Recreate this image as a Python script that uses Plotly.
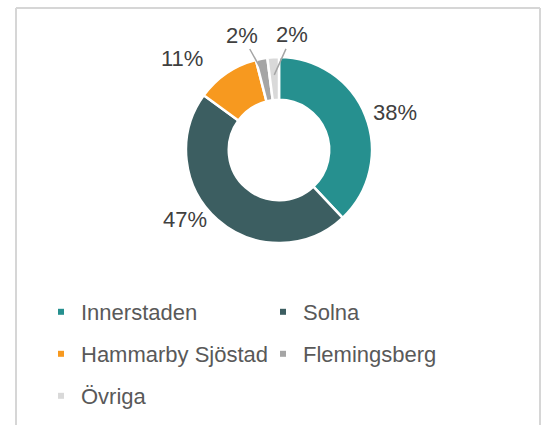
import math
import plotly.graph_objects as go

categories = ["Innerstaden", "Solna", "Hammarby Sjöstad", "Flemingsberg", "Övriga"]
values = [38, 47, 11, 2, 2]
colors = ["#26908F", "#3C5E61", "#F7991F", "#A5A5A5", "#D9D9D9"]
legend_rows = ["legend", "legend", "legend2", "legend2", "legend3"]
label_offsets = [(46, -10), (-44, 13), (-55, -29), (-23, -41), (18, -40)]
label_leader = [False, False, False, True, True]

FONT = "Liberation Sans, Arial, sans-serif"

W, H = 547, 425


def px(x):
    return x / W


def py(y):
    return 1 - y / H


CX, CY, R = 279, 150, 93

fig = go.Figure()

fig.add_trace(go.Pie(
    labels=categories,
    values=values,
    sort=False,
    direction="clockwise",
    rotation=0,
    hole=0.54,
    marker=dict(colors=colors, line=dict(color="white", width=2.5)),
    textinfo="none",
    showlegend=False,
    domain=dict(x=[px(CX - R), px(CX + R)], y=[py(CY + R), py(CY - R)]),
))

# percentage labels, anchored at each slice's mid-angle
total = sum(values)
annotations = []
cum = 0
for v, off, lead in zip(values, label_offsets, label_leader):
    mid = (cum + v / 2) / total
    cum += v
    ang = 2 * math.pi * mid
    r_tip = 0.81 * R
    tx = CX + r_tip * math.sin(ang)
    ty = CY - r_tip * math.cos(ang)
    annotations.append(dict(
        x=px(tx), y=py(ty), xref="paper", yref="paper",
        text=f"{v / total * 100:.0f}%",
        showarrow=True, arrowhead=0, arrowwidth=1.5,
        arrowcolor="#A5A5A5" if lead else "rgba(0,0,0,0)",
        ax=off[0], ay=off[1], standoff=0, startstandoff=0,
        font=dict(family=FONT, size=22, color="#404040"),
    ))

for name, col, lg in zip(categories, colors, legend_rows):
    fig.add_trace(go.Scatter(
        x=[None], y=[None], mode="markers", name=name,
        marker=dict(symbol="square", size=6, color=col),
        legend=lg, showlegend=True, hoverinfo="skip",
    ))

leg_common = dict(orientation="h", xanchor="left", yanchor="middle",
                  x=px(41), entrywidth=177, entrywidthmode="pixels",
                  font=dict(family=FONT, size=22, color="#595959"),
                  bgcolor="rgba(0,0,0,0)", borderwidth=0, itemclick=False)

FRAME_L, FRAME_R, FRAME_T = 16, 540, 8
frame_line = dict(color="#D6D6D6", width=2)
shapes = [
    dict(type="line", xref="paper", yref="paper",
         x0=px(FRAME_L), x1=px(FRAME_L), y0=0, y1=py(FRAME_T), line=frame_line),
    dict(type="line", xref="paper", yref="paper",
         x0=px(FRAME_R), x1=px(FRAME_R), y0=0, y1=py(FRAME_T), line=frame_line),
    dict(type="line", xref="paper", yref="paper",
         x0=px(FRAME_L), x1=px(FRAME_R), y0=py(FRAME_T), y1=py(FRAME_T), line=frame_line),
]

fig.update_layout(
    width=W, height=H,
    margin=dict(l=0, r=0, t=0, b=0),
    paper_bgcolor="white", plot_bgcolor="rgba(0,0,0,0)",
    xaxis=dict(visible=False), yaxis=dict(visible=False),
    legend=dict(**leg_common, y=py(312)),
    legend2=dict(**leg_common, y=py(354)),
    legend3=dict(**leg_common, y=py(396)),
    annotations=annotations,
    shapes=shapes,
)

fig.write_html(
    "out.html",
    config={"displayModeBar": False},
    post_script="document.body.style.margin='0';document.body.style.overflow='hidden';",
)
